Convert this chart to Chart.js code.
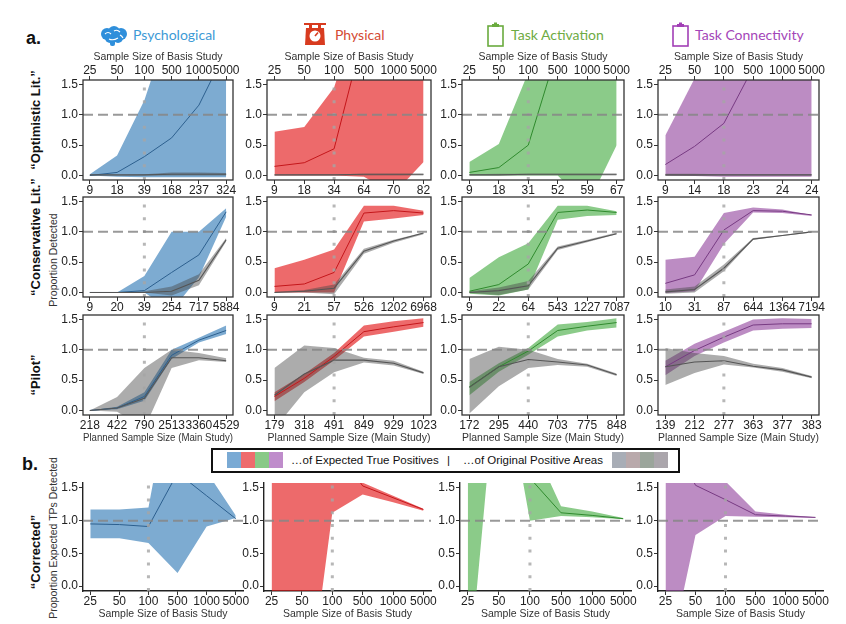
<!DOCTYPE html>
<html>
<head>
<meta charset="utf-8">
<script src="https://cdn.jsdelivr.net/npm/chart.js@4.4.1/dist/chart.umd.min.js"></script>
<style>
  body { margin: 0; background: #fff; width: 846px; height: 624px; position: relative; overflow: hidden;
         font-family: "Liberation Sans", Arial, sans-serif; color: #111; }
  canvas { position: absolute; }
  .tag { position: absolute; font-weight: bold; font-size: 18px; line-height: 18px; }
  .rowlab { position: absolute; font-weight: bold; font-size: 13px; white-space: nowrap;
            transform: translate(-50%, -50%) rotate(-90deg); }
  .ytitle { position: absolute; font-size: 10.5px; color: #333; white-space: nowrap;
            transform: translate(-50%, -50%) rotate(-90deg); }
  .head { position: absolute; font-family: Lato, "Noto Sans", sans-serif; font-size: 14px; line-height: 16px; white-space: nowrap; }
  .legend { position: absolute; left: 211px; top: 448px; width: 465px; height: 21px; border: 2px solid #111; }
  .legend span { position: absolute; }
  .sw { position: absolute; top: 2px; width: 14px; height: 16px; }
  .ltxt { top: 3px; font-size: 11.5px; line-height: 14px; white-space: nowrap; color: #111; }
</style>
</head>
<body>

<div class="tag" style="left:26px;top:29px">a.</div>
<div class="tag" style="left:22px;top:455px">b.</div>

<div class="rowlab" style="left:35px;top:120px">“Optimistic Lit.”</div>
<div class="rowlab" style="left:35px;top:237px">“Conservative Lit.”</div>
<div class="rowlab" style="left:35px;top:375px">“Pilot”</div>
<div class="rowlab" style="left:35px;top:552px">“Corrected”</div>
<div class="ytitle" style="left:53px;top:260px">Proportion Detected</div>
<div class="ytitle" style="left:53px;top:538px">Proportion Expected TPs Detected</div>

<!-- column headers -->
<svg style="position:absolute;left:100px;top:26px" width="28" height="20" viewBox="0 0 28 20">
  <g fill="#2f8fdb"><circle cx="7" cy="8" r="6"/><circle cx="14" cy="6" r="6"/><circle cx="21" cy="8" r="6"/>
  <circle cx="10" cy="12" r="5"/><circle cx="18" cy="12" r="5"/><rect x="10" y="13" width="5" height="7" rx="2"/></g>
  <path d="M5 8 q3 -3 6 0 M14 5 q3 -2 6 1 M9 13 q4 2 9 -1 M20 9 q2 1 3 3" stroke="#fff" stroke-width="1.1" fill="none"/>
</svg>
<div class="head" style="left:133px;top:27px;color:#3d9ad6">Psychological</div>

<svg style="position:absolute;left:303px;top:22px" width="24" height="24" viewBox="0 0 24 24">
  <rect x="1" y="1" width="22" height="2" fill="#d83b1f"/><rect x="6" y="3" width="3" height="3" fill="#d83b1f"/>
  <rect x="15" y="3" width="3" height="3" fill="#d83b1f"/><path d="M3 6 h18 l1 17 h-20 z" fill="#d83b1f"/>
  <circle cx="12" cy="14" r="5.5" fill="#fff"/><line x1="12" y1="14" x2="15" y2="10.5" stroke="#d83b1f" stroke-width="1.6"/>
</svg>
<div class="head" style="left:335px;top:27px;color:#d44a33">Physical</div>

<svg style="position:absolute;left:487px;top:22px" width="17" height="25" viewBox="0 0 17 25">
  <rect x="1" y="4" width="15" height="20" fill="none" stroke="#6aab3e" stroke-width="1.6"/>
  <rect x="5" y="2" width="7" height="3" fill="#6aab3e"/><rect x="7" y="0.5" width="3" height="2" fill="#6aab3e"/>
</svg>
<div class="head" style="left:511px;top:27px;color:#6eab43">Task Activation</div>

<svg style="position:absolute;left:672px;top:22px" width="17" height="25" viewBox="0 0 17 25">
  <rect x="1" y="4" width="15" height="20" fill="none" stroke="#a23fb6" stroke-width="1.6"/>
  <rect x="5" y="2" width="7" height="3" fill="#a23fb6"/><rect x="7" y="0.5" width="3" height="2" fill="#a23fb6"/>
</svg>
<div class="head" style="left:695px;top:27px;color:#a445b8">Task Connectivity</div>

<!-- legend between a. and b. -->
<div class="legend">
  <div class="sw" style="left:14px;background:#7aaad4"></div>
  <div class="sw" style="left:28px;background:#ee6b6d"></div>
  <div class="sw" style="left:42px;background:#88c987"></div>
  <div class="sw" style="left:56px;background:#bf8ccb"></div>
  <span class="ltxt" style="left:78px">…of Expected True Positives</span>
  <span class="ltxt" style="left:234px">|</span>
  <span class="ltxt" style="left:250px">…of Original Positive Areas</span>
  <div class="sw" style="left:399px;background:#a8adb6"></div>
  <div class="sw" style="left:413px;background:#b9a9ab"></div>
  <div class="sw" style="left:427px;background:#9ba59b"></div>
  <div class="sw" style="left:441px;background:#aba6ac"></div>
</div>

<script>
// x positions are the six basis-study sample sizes
const idx = [0, 1, 2, 3, 4, 5];
const basisSizes = ['25', '50', '100', '500', '1000', '5000'];
const yTicks = [0, 0.5, 1.0, 1.5];
const basisIdx = 2;      // dotted line at n = 100
const targetLevel = 1.0; // dashed line

// planned sample size (main study) labels, one row per column
const optLabels   = [[9, 18, 39, 168, 237, 324], [9, 18, 34, 64, 70, 82], [9, 18, 31, 52, 59, 67], [9, 14, 18, 23, 24, 24]];
const consLabels  = [[9, 20, 39, 254, 717, 5884], [9, 21, 57, 526, 1202, 6968], [9, 22, 64, 543, 1227, 7087], [10, 31, 87, 644, 1364, 7194]];
const pilotLabels = [[218, 422, 790, 2513, 3360, 4529], [179, 318, 491, 849, 929, 1023], [172, 295, 440, 703, 775, 848], [139, 212, 277, 363, 377, 383]];

// "Optimistic Lit." row
const optLo   = [[0, -0.02, -0.03, -0.03, -0.03, -0.03], [0, 0, 0, -0.02, -0.3, 0.22], [0, 0, 0, 0, -0.5, 0.5], [0, -0.01, -0.02, -0.02, -0.02, -0.02]];
const optHi   = [[0.02, 0.33, 1.24, 2.6, 3.5, 4.5], [0.72, 0.8, 1.45, 3.0, 3.5, 4.0], [0.22, 0.52, 1.7, 3.0, 3.5, 4.0], [0.66, 1.6, 2.5, 3.0, 3.5, 4.0]];
const optMean = [[0, 0.05, 0.31, 0.62, 1.16, 2.07], [0.15, 0.21, 0.44, 2.37, 3.0, 3.5], [0.05, 0.13, 0.5, 2.09, 3.0, 3.5], [0.18, 0.48, 0.86, 1.78, 2.5, 3.0]];
const optGrayLo   = [[0, 0, 0, 0, 0, 0], [0, 0, 0, 0, 0, 0], [0, 0, 0, 0, 0, 0], [-0.01, -0.01, 0, 0, 0, 0]];
const optGrayHi   = [[0.01, 0.01, 0.02, 0.05, 0.05, 0.04], [0.01, 0.02, 0.02, 0.03, 0.03, 0.03], [0.02, 0.03, 0.03, 0.03, 0.03, 0.03], [0.03, 0.03, 0.02, 0.02, 0.02, 0.02]];
const optGrayMean = [[0.01, 0.01, 0.01, 0.02, 0.02, 0.02], [0.01, 0.01, 0.01, 0.02, 0.02, 0.02], [0.01, 0.01, 0.02, 0.02, 0.02, 0.02], [0.01, 0.01, 0.01, 0.01, 0.01, 0.01]];

// "Conservative Lit." row
const consLo   = [[0, 0, 0, -0.3, 0.25, 1.25], [0, 0, 0, 1.17, 1.22, 1.28], [-0.02, -0.05, 0.05, 1.2, 1.26, 1.28], [-0.01, 0.02, 0.8, 1.32, 1.31, 1.26]];
const consHi   = [[0, 0, 0.27, 1.0, 1.0, 1.39], [0.4, 0.54, 0.71, 1.43, 1.43, 1.35], [0.24, 0.58, 0.81, 1.43, 1.43, 1.34], [0.54, 0.59, 1.31, 1.4, 1.37, 1.28]];
const consMean = [[0, 0, 0.03, 0.33, 0.62, 1.33], [0.1, 0.14, 0.33, 1.31, 1.35, 1.31], [0.02, 0.13, 0.47, 1.32, 1.36, 1.32], [0.15, 0.29, 1.03, 1.35, 1.34, 1.28]];
const consGrayLo   = [[0, 0, 0, -0.05, 0.12, 0.84], [0, 0, -0.03, 0.64, 0.82, 0.96], [-0.01, -0.04, 0.05, 0.7, 0.83, 0.96], [-0.02, 0, 0.35, 0.87, 0.93, 0.99]];
const consGrayHi   = [[0, 0, 0.02, 0.1, 0.3, 0.9], [0.01, 0.04, 0.13, 0.72, 0.87, 0.99], [0.02, 0.08, 0.19, 0.76, 0.87, 0.99], [0.05, 0.1, 0.46, 0.9, 0.95, 1.01]];
const consGrayMean = [[0, 0, 0, 0.02, 0.2, 0.87], [0, 0.02, 0.07, 0.68, 0.85, 0.98], [0, 0.03, 0.11, 0.73, 0.85, 0.97], [0.01, 0.05, 0.4, 0.88, 0.94, 1.0]];

// "Pilot" row
const pilotLo   = [[0, 0.02, 0.16, 0.85, 1.12, 1.26], [0.15, 0.47, 0.83, 1.22, 1.3, 1.38], [0.25, 0.64, 0.92, 1.22, 1.32, 1.37], [0.58, 0.9, 1.12, 1.32, 1.35, 1.36]];
const pilotHi   = [[0, 0.06, 0.3, 1.0, 1.2, 1.4], [0.3, 0.6, 0.95, 1.4, 1.47, 1.52], [0.47, 0.78, 1.03, 1.42, 1.46, 1.52], [0.82, 1.1, 1.3, 1.5, 1.52, 1.51]];
const pilotMean = [[0, 0.04, 0.23, 0.91, 1.16, 1.32], [0.23, 0.53, 0.89, 1.3, 1.38, 1.45], [0.39, 0.72, 0.98, 1.32, 1.39, 1.45], [0.72, 0.99, 1.21, 1.41, 1.43, 1.43]];
const pilotGrayLo   = [[0, -0.02, -0.3, 0.7, 0.83, 0.8], [-0.3, 0.3, 0.63, 0.79, 0.74, 0.6], [-0.05, 0.4, 0.7, 0.75, 0.72, 0.57], [0.42, 0.62, 0.76, 0.71, 0.64, 0.53]];
const pilotGrayHi   = [[0, 0.22, 0.7, 1.0, 0.95, 0.86], [0.7, 1.07, 1.03, 0.87, 0.82, 0.64], [0.85, 1.05, 1.0, 0.85, 0.77, 0.61], [1.03, 0.95, 0.9, 0.77, 0.7, 0.57]];
const pilotGrayMean = [[0, 0.04, 0.2, 0.87, 0.87, 0.82], [0.25, 0.6, 0.83, 0.83, 0.78, 0.62], [0.38, 0.72, 0.84, 0.8, 0.75, 0.59], [0.72, 0.8, 0.82, 0.73, 0.67, 0.55]];

// "Corrected" row (b.)
const corrLo   = [[0.73, 0.73, 0.66, 0.2, 0.91, 1.04], [-3.0, -2.42, 1.12, 1.4, 1.28, 1.15], [-1.55, 3.63, 1.0, 1.07, 1.05, 1.02], [-1.37, 0.78, 1.07, 1.06, 1.05, 1.04]];
const corrHi   = [[1.17, 1.17, 1.2, 3.6, 1.75, 1.08], [4.0, 4.0, 3.0, 1.58, 1.38, 1.18], [6.0, 6.0, 2.25, 1.22, 1.14, 1.04], [4.0, 3.0, 1.6, 1.14, 1.09, 1.05]];
const corrMean = [[0.95, 0.94, 0.91, 1.73, 1.38, 1.03], [3.5, 3.0, 2.2, 1.53, 1.35, 1.17], [5.0, 5.0, 1.65, 1.12, 1.08, 1.03], [2.5, 1.54, 1.32, 1.09, 1.07, 1.05]];

const fills = ['rgba(55,126,184,0.65)', 'rgba(228,26,28,0.65)', 'rgba(77,175,74,0.65)', 'rgba(152,78,163,0.65)'];
const lines = ['#2c5f8e', '#c4161a', '#2f8a2d', '#773a82'];
const grayFill = 'rgba(70,70,70,0.45)';
const grayLine = '#555555';

// panel boxes (plot areas) in page pixels
const colLeft = [83, 267, 462, 658], colRight = [233, 431, 624, 819];
const rowTop = [80, 197, 315], rowBottom = [180, 297, 415];
const bLeft = [83, 264, 460, 658], bRight = [243, 431, 631, 823];
const bTop = 483, bBottom = 591;

Chart.defaults.font.family = '"Liberation Sans", Arial, sans-serif';
Chart.defaults.font.size = 12;
Chart.defaults.color = '#222';

const refLines = {
  id: 'refLines',
  afterDatasetsDraw(chart, args, opts) {
    const { ctx, chartArea: a } = chart;
    const x = chart.scales.x, y = chart.scales.y;
    ctx.save();
    ctx.beginPath(); ctx.rect(a.left, a.top, a.width, a.height); ctx.clip();
    const px = x.getPixelForValue(basisIdx);
    ctx.setLineDash([3, 9.8]);
    ctx.lineWidth = 3; ctx.strokeStyle = 'rgba(165,165,165,0.8)';
    ctx.beginPath(); ctx.moveTo(px, a.bottom); ctx.lineTo(px, a.top); ctx.stroke();
    const py = y.getPixelForValue(targetLevel);
    ctx.setLineDash([10, 5]);
    ctx.lineWidth = 2; ctx.strokeStyle = 'rgba(135,135,135,0.85)';
    ctx.beginPath(); ctx.moveTo(a.left, py); ctx.lineTo(a.right, py); ctx.stroke();
    ctx.restore();
    if (opts.box) {
      ctx.save();
      ctx.lineWidth = 1.3; ctx.strokeStyle = '#333';
      ctx.strokeRect(a.left, a.top, a.width, a.height);
      ctx.restore();
    }
  }
};

function band(lo, hi, color, order) {
  return [
    { data: lo, borderColor: 'rgba(0,0,0,0)', borderWidth: 0, pointRadius: 0, fill: false, order },
    { data: hi, borderColor: 'rgba(0,0,0,0)', borderWidth: 0, pointRadius: 0, fill: '-1', backgroundColor: color, order }
  ];
}

function meanLine(data, color, width, order) {
  return { data, borderColor: color, borderWidth: width, pointRadius: 0, fill: false, tension: 0, order };
}

function xAxis(labels, position, title, h, showBorder, pad) {
  return {
    type: 'linear', position, min: -0.25, max: 5.25, bounds: 'data',
    afterBuildTicks: s => { s.ticks = idx.map(v => ({ value: v })); },
    afterFit: s => { s.height = h; },
    ticks: { autoSkip: false, maxRotation: 0, minRotation: 0, padding: pad, color: '#222',
             callback: (v, i) => labels[i] },
    grid: { drawOnChartArea: false, drawTicks: true, tickLength: 4, color: '#333' },
    border: { display: showBorder, color: '#222', width: 1.4 },
    title: { display: !!title, text: title, padding: 0, color: '#333', font: { size: 10.5 } }
  };
}

function yAxis(showBorder) {
  return {
    type: 'linear', min: -0.075, max: 1.575, bounds: 'data',
    afterBuildTicks: s => { s.ticks = yTicks.map(v => ({ value: v })); },
    afterFit: s => { s.width = 30; },
    ticks: { padding: 1, color: '#222', callback: v => v.toFixed(1) },
    grid: { drawOnChartArea: false, drawTicks: true, tickLength: 4, color: '#333' },
    border: { display: showBorder, color: '#222', width: 1.4 }
  };
}

function panel(L, T, R, B, topH, botH, datasets, scales, box) {
  const c = document.createElement('canvas');
  const left = L - 30, top = T - topH;
  c.width = R - L + 30 + 24;
  c.height = B - T + topH + botH;
  c.style.left = left + 'px';
  c.style.top = top + 'px';
  document.body.appendChild(c);
  new Chart(c, {
    type: 'line',
    data: { labels: idx, datasets },
    options: {
      responsive: false, animation: false, events: [],
      layout: { padding: { top: scales.xTop ? 0 : topH, right: 24, left: 0, bottom: 0 } },
      plugins: { legend: { display: false }, tooltip: { enabled: false }, refLines: { box } },
      scales
    },
    plugins: [refLines]
  });
}

// row a: three scenario rows with original-area (gray) bands
const rowsA = [
  { lo: optLo, hi: optHi, mean: optMean, gLo: optGrayLo, gHi: optGrayHi, gMean: optGrayMean, labels: optLabels },
  { lo: consLo, hi: consHi, mean: consMean, gLo: consGrayLo, gHi: consGrayHi, gMean: consGrayMean, labels: consLabels },
  { lo: pilotLo, hi: pilotHi, mean: pilotMean, gLo: pilotGrayLo, gHi: pilotGrayHi, gMean: pilotGrayMean, labels: pilotLabels }
];

rowsA.forEach((row, r) => {
  for (let c = 0; c < 4; c++) {
    const datasets = [
      ...band(row.lo[c], row.hi[c], fills[c], 6),
      ...band(row.gLo[c], row.gHi[c], grayFill, 5),
      meanLine(row.mean[c], lines[c], 1, 4),
      meanLine(row.gMean[c], grayLine, 1.1, 3)
    ];
    const topH = r === 0 ? 29 : 12;
    const botH = r === 2 ? 29 : 18;
    const scales = {
      x: xAxis(row.labels[c], 'bottom', r === 2 ? 'Planned Sample Size (Main Study)' : '', botH, false, -1),
      y: yAxis(false)
    };
    if (r === 0) scales.xTop = xAxis(basisSizes, 'top', 'Sample Size of Basis Study', topH, false, -2);
    panel(colLeft[c], rowTop[r], colRight[c], rowBottom[r], topH, botH, datasets, scales, true);
  }
});

// row b: corrected estimates, classic axes
for (let c = 0; c < 4; c++) {
  const datasets = [
    ...band(corrLo[c], corrHi[c], fills[c], 6),
    meanLine(corrMean[c], lines[c], 1, 4)
  ];
  const scales = {
    x: xAxis(basisSizes, 'bottom', 'Sample Size of Basis Study', 29, true, -1),
    y: yAxis(true)
  };
  panel(bLeft[c], bTop, bRight[c], bBottom, 12, 29, datasets, scales, false);
}
</script>
</body>
</html>
